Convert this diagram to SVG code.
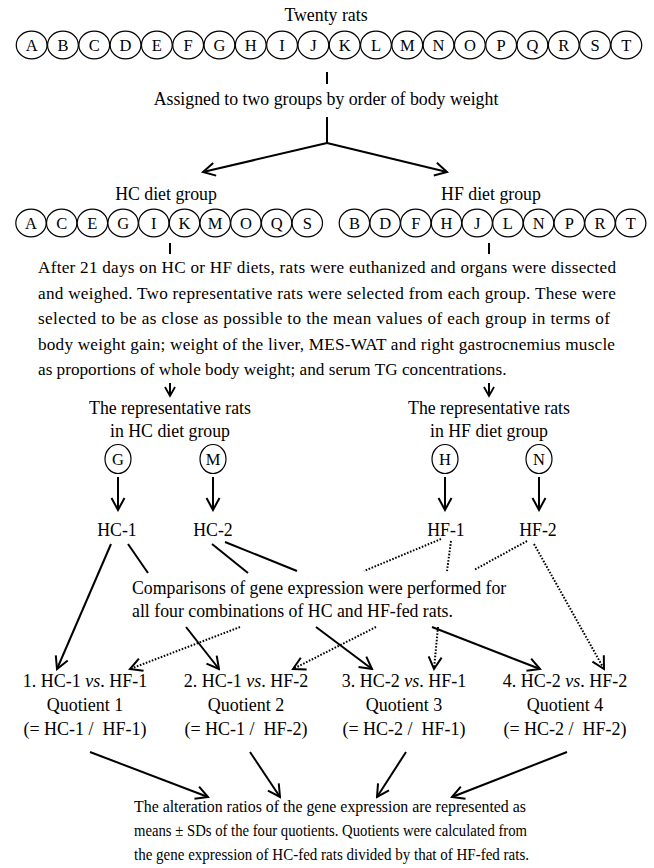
<svg xmlns="http://www.w3.org/2000/svg" width="654" height="868" viewBox="0 0 654 868">
<defs>
<style>
text{font-family:"Liberation Serif","Times New Roman",serif;font-size:17.8px;fill:#000}
.m{text-anchor:middle}
.l{font-size:16.5px;text-anchor:middle}
.p{font-size:17.2px}
.q{font-size:18px;text-anchor:middle}
.b{font-size:17.4px}
.c{fill:#fff;stroke:#000;stroke-width:1.2}
.s{fill:none;stroke:#000;stroke-width:2}
.d{fill:none;stroke:#000;stroke-width:2;stroke-dasharray:1.6 1.6}
.pre{white-space:pre}
</style>
<marker id="ah" markerUnits="userSpaceOnUse" viewBox="0 0 16 16" markerWidth="16" markerHeight="16" refX="14" refY="8" orient="auto">
<path d="M2,1.5 L14,8 L2,14.5" fill="none" stroke="#000" stroke-width="2"/>
</marker>
<marker id="sm" markerUnits="userSpaceOnUse" viewBox="0 0 12 12" markerWidth="12" markerHeight="12" refX="10" refY="6" orient="auto">
<path d="M1,1 L10,6 L1,11" fill="none" stroke="#000" stroke-width="1.8"/>
</marker>
</defs>

<g id="title"><text class="m" x="326" y="21">Twenty rats</text></g>

<g id="all-rats">
<g id="r-A"><ellipse class="c" cx="31.65" cy="45" rx="15.4" ry="13.8"/><text class="l" x="31.65" y="50.8">A</text></g>
<g id="r-B"><ellipse class="c" cx="62.95" cy="45" rx="15.4" ry="13.8"/><text class="l" x="62.95" y="50.8">B</text></g>
<g id="r-C"><ellipse class="c" cx="94.25" cy="45" rx="15.4" ry="13.8"/><text class="l" x="94.25" y="50.8">C</text></g>
<g id="r-D"><ellipse class="c" cx="125.55" cy="45" rx="15.4" ry="13.8"/><text class="l" x="125.55" y="50.8">D</text></g>
<g id="r-E"><ellipse class="c" cx="156.85" cy="45" rx="15.4" ry="13.8"/><text class="l" x="156.85" y="50.8">E</text></g>
<g id="r-F"><ellipse class="c" cx="188.15" cy="45" rx="15.4" ry="13.8"/><text class="l" x="188.15" y="50.8">F</text></g>
<g id="r-G"><ellipse class="c" cx="219.45" cy="45" rx="15.4" ry="13.8"/><text class="l" x="219.45" y="50.8">G</text></g>
<g id="r-H"><ellipse class="c" cx="250.75" cy="45" rx="15.4" ry="13.8"/><text class="l" x="250.75" y="50.8">H</text></g>
<g id="r-I"><ellipse class="c" cx="282.05" cy="45" rx="15.4" ry="13.8"/><text class="l" x="282.05" y="50.8">I</text></g>
<g id="r-J"><ellipse class="c" cx="313.35" cy="45" rx="15.4" ry="13.8"/><text class="l" x="313.35" y="50.8">J</text></g>
<g id="r-K"><ellipse class="c" cx="344.65" cy="45" rx="15.4" ry="13.8"/><text class="l" x="344.65" y="50.8">K</text></g>
<g id="r-L"><ellipse class="c" cx="375.95" cy="45" rx="15.4" ry="13.8"/><text class="l" x="375.95" y="50.8">L</text></g>
<g id="r-M"><ellipse class="c" cx="407.25" cy="45" rx="15.4" ry="13.8"/><text class="l" x="407.25" y="50.8">M</text></g>
<g id="r-N"><ellipse class="c" cx="438.55" cy="45" rx="15.4" ry="13.8"/><text class="l" x="438.55" y="50.8">N</text></g>
<g id="r-O"><ellipse class="c" cx="469.85" cy="45" rx="15.4" ry="13.8"/><text class="l" x="469.85" y="50.8">O</text></g>
<g id="r-P"><ellipse class="c" cx="501.15" cy="45" rx="15.4" ry="13.8"/><text class="l" x="501.15" y="50.8">P</text></g>
<g id="r-Q"><ellipse class="c" cx="532.45" cy="45" rx="15.4" ry="13.8"/><text class="l" x="532.45" y="50.8">Q</text></g>
<g id="r-R"><ellipse class="c" cx="563.75" cy="45" rx="15.4" ry="13.8"/><text class="l" x="563.75" y="50.8">R</text></g>
<g id="r-S"><ellipse class="c" cx="595.05" cy="45" rx="15.4" ry="13.8"/><text class="l" x="595.05" y="50.8">S</text></g>
<g id="r-T"><ellipse class="c" cx="626.35" cy="45" rx="15.4" ry="13.8"/><text class="l" x="626.35" y="50.8">T</text></g>
</g>

<g id="assigned"><text class="m" x="326" y="105">Assigned to two groups by order of body weight</text></g>

<g id="hc-group">
<text class="m" x="166" y="200">HC diet group</text>
<g id="hc-A"><ellipse class="c" cx="31" cy="223" rx="15.2" ry="13.8"/><text class="l" x="31" y="228.8">A</text></g>
<g id="hc-C"><ellipse class="c" cx="61.7" cy="223" rx="15.2" ry="13.8"/><text class="l" x="61.7" y="228.8">C</text></g>
<g id="hc-E"><ellipse class="c" cx="92.4" cy="223" rx="15.2" ry="13.8"/><text class="l" x="92.4" y="228.8">E</text></g>
<g id="hc-G"><ellipse class="c" cx="123.1" cy="223" rx="15.2" ry="13.8"/><text class="l" x="123.1" y="228.8">G</text></g>
<g id="hc-I"><ellipse class="c" cx="153.8" cy="223" rx="15.2" ry="13.8"/><text class="l" x="153.8" y="228.8">I</text></g>
<g id="hc-K"><ellipse class="c" cx="184.5" cy="223" rx="15.2" ry="13.8"/><text class="l" x="184.5" y="228.8">K</text></g>
<g id="hc-M"><ellipse class="c" cx="215.2" cy="223" rx="15.2" ry="13.8"/><text class="l" x="215.2" y="228.8">M</text></g>
<g id="hc-O"><ellipse class="c" cx="245.9" cy="223" rx="15.2" ry="13.8"/><text class="l" x="245.9" y="228.8">O</text></g>
<g id="hc-Q"><ellipse class="c" cx="276.6" cy="223" rx="15.2" ry="13.8"/><text class="l" x="276.6" y="228.8">Q</text></g>
<g id="hc-S"><ellipse class="c" cx="307.3" cy="223" rx="15.2" ry="13.8"/><text class="l" x="307.3" y="228.8">S</text></g>
</g>

<g id="hf-group">
<text class="m" x="491" y="200">HF diet group</text>
<g id="hf-B"><ellipse class="c" cx="354.4" cy="223" rx="15.2" ry="13.8"/><text class="l" x="354.4" y="228.8">B</text></g>
<g id="hf-D"><ellipse class="c" cx="385.1" cy="223" rx="15.2" ry="13.8"/><text class="l" x="385.1" y="228.8">D</text></g>
<g id="hf-F"><ellipse class="c" cx="415.8" cy="223" rx="15.2" ry="13.8"/><text class="l" x="415.8" y="228.8">F</text></g>
<g id="hf-H"><ellipse class="c" cx="446.5" cy="223" rx="15.2" ry="13.8"/><text class="l" x="446.5" y="228.8">H</text></g>
<g id="hf-J"><ellipse class="c" cx="477.2" cy="223" rx="15.2" ry="13.8"/><text class="l" x="477.2" y="228.8">J</text></g>
<g id="hf-L"><ellipse class="c" cx="507.9" cy="223" rx="15.2" ry="13.8"/><text class="l" x="507.9" y="228.8">L</text></g>
<g id="hf-N"><ellipse class="c" cx="538.6" cy="223" rx="15.2" ry="13.8"/><text class="l" x="538.6" y="228.8">N</text></g>
<g id="hf-P"><ellipse class="c" cx="569.3" cy="223" rx="15.2" ry="13.8"/><text class="l" x="569.3" y="228.8">P</text></g>
<g id="hf-R"><ellipse class="c" cx="600" cy="223" rx="15.2" ry="13.8"/><text class="l" x="600" y="228.8">R</text></g>
<g id="hf-T"><ellipse class="c" cx="630.7" cy="223" rx="15.2" ry="13.8"/><text class="l" x="630.7" y="228.8">T</text></g>
</g>

<g id="procedure">
<text class="p" x="38" y="273" textLength="578" lengthAdjust="spacing">After 21 days on HC or HF diets, rats were euthanized and organs were dissected</text>
<text class="p" x="38" y="298.5" textLength="578" lengthAdjust="spacing">and weighed. Two representative rats were selected from each group. These were</text>
<text class="p" x="38" y="324" textLength="572" lengthAdjust="spacing">selected to be as close as possible to the mean values of each group in terms of</text>
<text class="p" x="38" y="349.5" textLength="577" lengthAdjust="spacing">body weight gain; weight of the liver, MES-WAT and right gastrocnemius muscle</text>
<text class="p" x="38" y="375">as proportions of whole body weight; and serum TG concentrations.</text>
</g>

<g id="rep-hc">
<text class="m" x="170" y="414">The representative rats</text>
<text class="m" x="170" y="437">in HC diet group</text>
</g>
<g id="rep-hf">
<text class="m" x="489" y="414">The representative rats</text>
<text class="m" x="489" y="437">in HF diet group</text>
</g>

<g id="rat-G"><ellipse class="c" cx="118" cy="459" rx="13" ry="14.5"/><text class="l" x="118" y="464.8">G</text></g>
<g id="rat-M"><ellipse class="c" cx="213" cy="459" rx="13" ry="14.5"/><text class="l" x="213" y="464.8">M</text></g>
<g id="rat-H"><ellipse class="c" cx="445" cy="459" rx="13" ry="14.5"/><text class="l" x="445" y="464.8">H</text></g>
<g id="rat-N"><ellipse class="c" cx="539" cy="459" rx="13" ry="14.5"/><text class="l" x="539" y="464.8">N</text></g>

<g id="hc1"><text class="m" x="117" y="536">HC-1</text></g>
<g id="hc2"><text class="m" x="213" y="536">HC-2</text></g>
<g id="hf1"><text class="m" x="446" y="536">HF-1</text></g>
<g id="hf2"><text class="m" x="538" y="536">HF-2</text></g>

<g id="comparisons">
<text x="132" y="594">Comparisons of gene expression were performed for</text>
<text x="132" y="617">all four combinations of HC and HF-fed rats.</text>
</g>

<g id="q1">
<text class="q" x="85" y="687">1. HC-1 <tspan font-style="italic">vs</tspan>. HF-1</text>
<text class="q" x="85" y="711">Quotient 1</text>
<text class="q pre" x="85" y="735">(= HC-1 /  HF-1)</text>
</g>
<g id="q2">
<text class="q" x="246" y="687">2. HC-1 <tspan font-style="italic">vs</tspan>. HF-2</text>
<text class="q" x="246" y="711">Quotient 2</text>
<text class="q pre" x="246" y="735">(= HC-1 /  HF-2)</text>
</g>
<g id="q3">
<text class="q" x="404" y="687">3. HC-2 <tspan font-style="italic">vs</tspan>. HF-1</text>
<text class="q" x="404" y="711">Quotient 3</text>
<text class="q pre" x="404" y="735">(= HC-2 /  HF-1)</text>
</g>
<g id="q4">
<text class="q" x="565" y="687">4. HC-2 <tspan font-style="italic">vs</tspan>. HF-2</text>
<text class="q" x="565" y="711">Quotient 4</text>
<text class="q pre" x="565" y="735">(= HC-2 /  HF-2)</text>
</g>

<g id="result">
<text class="b" x="134" y="812" textLength="392" lengthAdjust="spacingAndGlyphs">The alteration ratios of the gene expression are represented as</text>
<text class="b" x="134" y="836" textLength="393" lengthAdjust="spacingAndGlyphs">means ± SDs of the four quotients. Quotients were calculated from</text>
<text class="b" x="134" y="860" textLength="395" lengthAdjust="spacingAndGlyphs">the gene expression of HC-fed rats divided by that of HF-fed rats.</text>
</g>

<g id="connectors">
<line class="s" x1="327" y1="72" x2="327" y2="84"/>
<line class="s" x1="327" y1="117" x2="327" y2="143"/>
<line class="s" x1="327" y1="143" x2="203" y2="172" marker-end="url(#ah)"/>
<line class="s" x1="327" y1="143" x2="447" y2="172" marker-end="url(#ah)"/>
<line class="s" x1="170" y1="243" x2="170" y2="254"/>
<line class="s" x1="489" y1="243" x2="489" y2="254"/>
<line class="s" x1="170" y1="383" x2="170" y2="396" marker-end="url(#sm)"/>
<line class="s" x1="489" y1="383" x2="489" y2="396" marker-end="url(#sm)"/>
<line class="s" x1="118" y1="477" x2="118" y2="510" marker-end="url(#ah)"/>
<line class="s" x1="213" y1="477" x2="213" y2="510" marker-end="url(#ah)"/>
<line class="s" x1="445" y1="477" x2="445" y2="510" marker-end="url(#ah)"/>
<line class="s" x1="539" y1="477" x2="539" y2="510" marker-end="url(#ah)"/>
<!-- HC-1 to Quotient 1 -->
<line class="s" x1="111" y1="544" x2="57" y2="669" marker-end="url(#ah)"/>
<!-- HC-1 to Quotient 2 -->
<line class="s" x1="128" y1="544" x2="148" y2="573"/>
<line class="s" x1="186" y1="627" x2="219" y2="669" marker-end="url(#ah)"/>
<!-- HC-2 to Quotient 3 -->
<line class="s" x1="212" y1="544" x2="248" y2="573"/>
<line class="s" x1="316" y1="627" x2="372" y2="669" marker-end="url(#ah)"/>
<!-- HC-2 to Quotient 4 -->
<line class="s" x1="225" y1="542" x2="297" y2="571"/>
<line class="s" x1="432" y1="627" x2="540" y2="669" marker-end="url(#ah)"/>
<!-- HF-1 to Quotient 1 -->
<line class="d" x1="441" y1="539" x2="364" y2="571"/>
<line class="d" x1="240" y1="627" x2="130" y2="669" marker-end="url(#ah)"/>
<!-- HF-1 to Quotient 3 -->
<line class="d" x1="451" y1="541" x2="447" y2="571"/>
<line class="d" x1="438" y1="627" x2="434" y2="669" marker-end="url(#ah)"/>
<!-- HF-2 to Quotient 2 -->
<line class="d" x1="527" y1="541" x2="474" y2="570"/>
<line class="d" x1="376" y1="627" x2="293" y2="669" marker-end="url(#ah)"/>
<!-- HF-2 to Quotient 4 -->
<line class="d" x1="534" y1="544" x2="604" y2="669" marker-end="url(#ah)"/>
<!-- Quotients to result -->
<line class="s" x1="90" y1="752" x2="208" y2="797" marker-end="url(#ah)"/>
<line class="s" x1="250" y1="752" x2="280" y2="797" marker-end="url(#ah)"/>
<line class="s" x1="406" y1="752" x2="377" y2="797" marker-end="url(#ah)"/>
<line class="s" x1="567" y1="752" x2="452" y2="797" marker-end="url(#ah)"/>
</g>
</svg>
